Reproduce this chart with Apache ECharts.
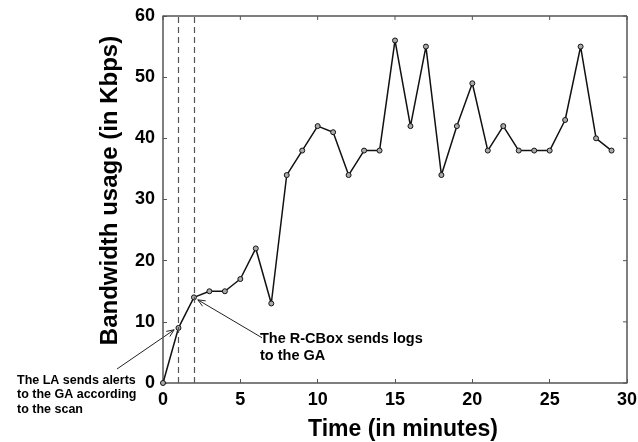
<!DOCTYPE html>
<html><head><meta charset="utf-8">
<script src="https://cdn.jsdelivr.net/npm/echarts@6/dist/echarts.min.js"></script>
<style>html,body{margin:0;padding:0;background:#fff}#c{width:638px;height:442px}</style>
</head><body><div id="c"></div>
<script>
const minutes = [0,1,2,3,4,5,6,7,8,9,10,11,12,13,14,15,16,17,18,19,20,21,22,23,24,25,26,27,28,29];
const bandwidth = [0,9,14,15,15,17,22,13,34,38,42,41,34,38,38,56,42,55,34,42,49,38,42,38,38,38,43,55,40,38];
const eventMinutes = [1,2];
const xTicks = [0,5,10,15,20,25,30];
const yTicks = [0,10,20,30,40,50,60];
const arrowLA = [[-2.97,2.3],[0.72,8.7]];
const arrowRC = [[6.4,7.4],[2.25,13.6]];

const chart = echarts.init(document.getElementById('c'));
const FONT = 'Liberation Sans, Arial';
const AX = '#555';
const labelStyle = {color:'#000',fontFamily:FONT,fontWeight:'bold',fontSize:18};
const nameStyle = {color:'#000',fontFamily:FONT,fontWeight:'bold',fontSize:23};
chart.setOption({
  animation:false,
  grid:{left:163,right:11,top:16,bottom:59,containLabel:false,outerBoundsMode:'none'},
  xAxis:{type:'value',min:0,max:30,interval:5,
    axisLine:{show:true,onZero:false,lineStyle:{color:AX,width:1.5}},
    axisTick:{show:true,inside:true,length:4,lineStyle:{color:AX}},
    splitLine:{show:false},
    axisLabel:Object.assign({margin:8},labelStyle),
    name:'Time (in minutes)',nameLocation:'middle',nameGap:35,
    nameTextStyle:Object.assign({},nameStyle,{padding:[0,0,0,16]})},
  yAxis:{type:'value',min:0,max:60,interval:10,
    axisLine:{show:true,onZero:false,lineStyle:{color:AX,width:1.5}},
    axisTick:{show:true,inside:true,length:4,lineStyle:{color:AX}},
    splitLine:{show:false},
    axisLabel:Object.assign({margin:8},labelStyle),
    name:'Bandwidth usage (in Kbps)',nameLocation:'middle',nameGap:41,
    nameTextStyle:Object.assign({},nameStyle,{fontSize:24,padding:[0,0,0,18]})},
  series:[{
    type:'line',
    data:minutes.map((m,i)=>[m,bandwidth[i]]),
    symbol:'circle',symbolSize:5,
    lineStyle:{color:'#111',width:1.5},
    itemStyle:{color:'#aaa',borderColor:'#111',borderWidth:1},
    clip:false,
    markLine:{
      silent:true,animation:false,symbol:['none','none'],
      label:{show:false},
      lineStyle:{type:[6,4],color:'#555',width:1.2},
      data:eventMinutes.map(m=>({xAxis:m}))
    }
  }]
});

const px = p => chart.convertToPixel({gridIndex:0},p);
function seg(a,b,color,w){
  return {type:'polyline',z:100,shape:{points:[a,b]},style:{stroke:color,lineWidth:w,fill:null}};
}
function arrow(pair){
  const a = px(pair[0]), b = px(pair[1]);
  const ang = Math.atan2(b[1]-a[1],b[0]-a[0]);
  const L = 8, w = 0.4;
  const p1 = [b[0]-L*Math.cos(ang-w), b[1]-L*Math.sin(ang-w)];
  const p2 = [b[0]-L*Math.cos(ang+w), b[1]-L*Math.sin(ang+w)];
  return [
    {type:'line',shape:{x1:a[0],y1:a[1],x2:b[0],y2:b[1]},style:{stroke:'#222',lineWidth:1}},
    {type:'polyline',shape:{points:[p1,b,p2]},style:{stroke:'#222',lineWidth:1,fill:null}}
  ];
}
const tl = px([0,60]), br = px([30,0]);
const frame = [
  seg([tl[0],tl[1]],[br[0],tl[1]],AX,1.5),
  seg([br[0],tl[1]],[br[0],br[1]],AX,1.5),
  ...xTicks.map(t=>{const p=px([t,60]);return seg(p,[p[0],p[1]+4],AX,1);}),
  ...yTicks.map(t=>{const p=px([30,t]);return seg(p,[p[0]-4,p[1]],AX,1);})
];
chart.setOption({
  graphic:[
    ...arrow(arrowLA), ...arrow(arrowRC),
    {type:'text',left:260,top:330,style:{text:'The R-CBox sends logs\nto the GA',fill:'#000',
      font:'bold 14.5px "Liberation Sans", Arial',lineHeight:17}},
    {type:'text',left:17,top:373,style:{text:'The LA sends alerts\nto the GA according\nto the scan',fill:'#000',
      font:'bold 12.5px "Liberation Sans", Arial',lineHeight:14.5}},
    ...frame
  ]
});
</script></body></html>
